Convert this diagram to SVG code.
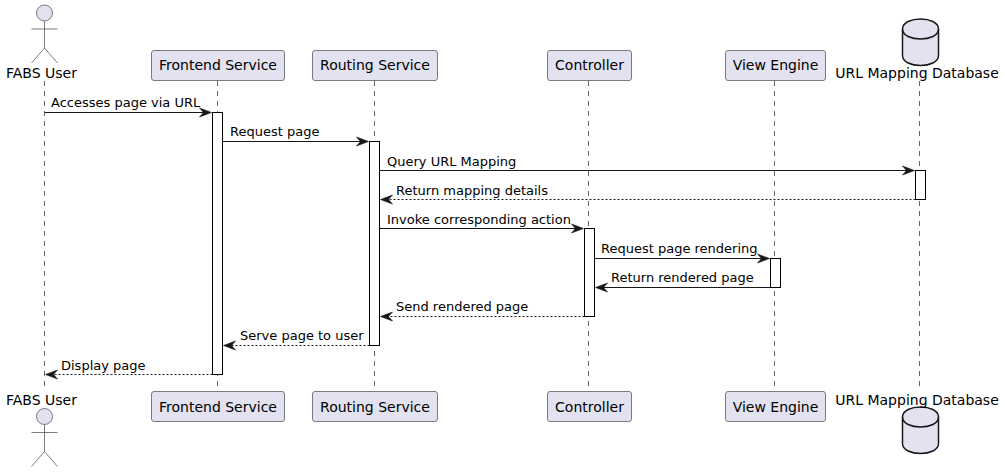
<svg xmlns="http://www.w3.org/2000/svg" width="1005" height="472" viewBox="0 0 1005 472">
<style>
text{font-family:"DejaVu Sans",sans-serif;font-size:13px;fill:#000}
.lbl{font-size:14px;text-anchor:middle}
.life{stroke:#666;stroke-width:1;stroke-dasharray:5 5;fill:none}
.box{fill:#E2E2F0;stroke:#5B5B66;stroke-width:.8}
.act{fill:#fff;stroke:#000;stroke-width:1}
.msg{stroke:#181818;stroke-width:1;fill:none}
.ret{stroke-dasharray:2 2}
.head{fill:#181818;stroke:#181818;stroke-width:.6}
.actor{fill:none;stroke:#5B5B66;stroke-width:.8}
.db{fill:#E2E2F0;stroke:#181818;stroke-width:1.5}
</style>
<defs>
<g id="stick"><circle class="box" cx="0" cy="10" r="8"/><path class="actor" d="M0 18V45M-13 26H13M0 45L-13 60M0 45L13 60"/></g>
<g id="cyl"><path class="db" d="M-18 10C-18 -3.300 18 -3.300 18 10V36.500C18 49.800 -18 49.800 -18 36.500Z"/><path class="db" style="fill:none" d="M-18 10C-18 23.300 18 23.300 18 10"/></g>
</defs>
<g id="lifelines">
<path class="life" d="M44.5 81V391"/><path class="life" d="M217.5 81V391"/><path class="life" d="M374.5 81V391"/><path class="life" d="M588.5 81V391"/><path class="life" d="M774.5 81V391"/><path class="life" d="M919.5 81V391"/>
</g>
<g id="node-user-top"><use href="#stick" x="44.5" y="3"/><text class="lbl" x="41.5" y="78">FABS User</text></g>
<g id="node-frontend-top"><rect class="box" x="151.5" y="50.5" width="133" height="30" rx="2.5"/><text class="lbl" x="218" y="70">Frontend Service</text></g>
<g id="node-routing-top"><rect class="box" x="312.5" y="50.5" width="125" height="30" rx="2.5"/><text class="lbl" x="375" y="70">Routing Service</text></g>
<g id="node-controller-top"><rect class="box" x="547.5" y="50.5" width="84" height="30" rx="2.5"/><text class="lbl" x="589.5" y="70">Controller</text></g>
<g id="node-view-top"><rect class="box" x="725.5" y="50.5" width="100" height="30" rx="2.5"/><text class="lbl" x="775.5" y="70">View Engine</text></g>
<g id="node-db-top"><use href="#cyl" x="920.5" y="19"/><text class="lbl" x="917" y="78">URL Mapping Database</text></g>
<g id="node-user-bottom"><use href="#stick" x="44.5" y="406.500"/><text class="lbl" x="41.5" y="405">FABS User</text></g>
<g id="node-frontend-bottom"><rect class="box" x="151.5" y="391.5" width="133" height="30" rx="2.5"/><text class="lbl" x="218" y="412">Frontend Service</text></g>
<g id="node-routing-bottom"><rect class="box" x="312.5" y="391.5" width="125" height="30" rx="2.5"/><text class="lbl" x="375" y="412">Routing Service</text></g>
<g id="node-controller-bottom"><rect class="box" x="547.5" y="391.5" width="84" height="30" rx="2.5"/><text class="lbl" x="589.5" y="412">Controller</text></g>
<g id="node-view-bottom"><rect class="box" x="725.5" y="391.5" width="100" height="30" rx="2.5"/><text class="lbl" x="775.5" y="412">View Engine</text></g>
<g id="node-db-bottom"><use href="#cyl" x="920.5" y="407"/><text class="lbl" x="917" y="405">URL Mapping Database</text></g>
<g id="activations">
<rect class="act" x="212.5" y="112.5" width="10" height="262"/>
<rect class="act" x="369.5" y="141.5" width="10" height="204"/>
<rect class="act" x="915.5" y="170.5" width="10" height="29"/>
<rect class="act" x="584.5" y="228.5" width="10" height="88"/>
<rect class="act" x="770.5" y="258.5" width="10" height="29"/>
</g>
<g id="connectors">
<path class="msg" d="M44.5 112.5H207"/><path class="head" d="M211.5 112.500L199.5 108L203.5 112.500L199.5 117Z"/>
<path class="msg" d="M222.5 141.5H364"/><path class="head" d="M368.500 141.500L356.500 137L360.500 141.500L356.500 146Z"/>
<path class="msg" d="M379.5 170.500H910"/><path class="head" d="M914.500 170.500L902.500 166L906.500 170.500L902.500 175Z"/>
<path class="msg ret" d="M915.500 199.500H385"/><path class="head" d="M380.500 199.500L392.500 195L388.500 199.500L392.500 204Z"/>
<path class="msg" d="M379.5 228.500H579"/><path class="head" d="M583.500 228.500L571.500 224L575.500 228.500L571.500 233Z"/>
<path class="msg" d="M594.500 258.500H765"/><path class="head" d="M769.500 258.500L757.500 254L761.500 258.500L757.500 263Z"/>
<path class="msg" d="M770.500 287.500H600"/><path class="head" d="M595.500 287.500L607.500 283L603.500 287.500L607.500 292Z"/>
<path class="msg ret" d="M584.500 316.500H385"/><path class="head" d="M380.500 316.500L392.500 312L388.500 316.500L392.500 321Z"/>
<path class="msg ret" d="M369.500 345.500H228"/><path class="head" d="M223.500 345.500L235.500 341L231.500 345.500L235.500 350Z"/>
<path class="msg ret" d="M212.500 374.500H50"/><path class="head" d="M45.500 374.500L57.500 370L53.500 374.500L57.500 379Z"/>
</g>
<g id="labels">
<text x="51" y="107">Accesses page via URL</text>
<text x="230" y="136">Request page</text>
<text x="387" y="166">Query URL Mapping</text>
<text x="396" y="195">Return mapping details</text>
<text x="387" y="224">Invoke corresponding action</text>
<text x="601" y="253">Request page rendering</text>
<text x="611" y="282">Return rendered page</text>
<text x="396" y="311">Send rendered page</text>
<text x="240" y="340">Serve page to user</text>
<text x="61" y="370">Display page</text>
</g>
</svg>
